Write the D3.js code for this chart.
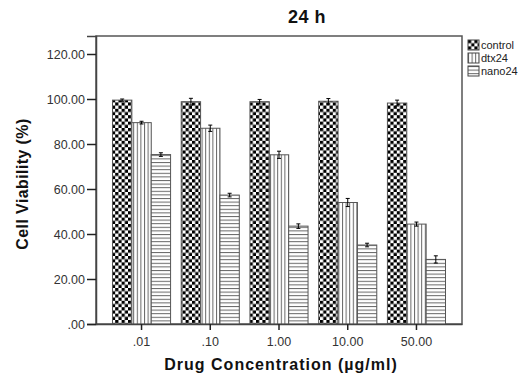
<!DOCTYPE html>
<html>
<head>
<meta charset="utf-8">
<script src="https://cdn.jsdelivr.net/npm/d3@7"></script>
<style>
  body { margin: 0; background: #fff; }
  svg { font-family: Arial, "Liberation Sans", sans-serif; }
</style>
</head>
<body>
<div id="chart"></div>
<script>
// data
const concentrations = [".01", ".10", "1.00", "10.00", "50.00"];
const seriesNames = ["control", "dtx24", "nano24"];
const controlMeans = [99.5, 98.8, 98.8, 99.0, 98.2];
const dtxMeans = [89.5, 87.0, 75.2, 54.0, 44.4];
const nanoMeans = [75.3, 57.3, 43.5, 35.1, 28.7];
const controlErr = [0.5, 1.5, 1.0, 1.2, 1.3];
const dtxErr = [0.6, 1.4, 1.6, 1.8, 0.9];
const nanoErr = [0.8, 0.8, 1.0, 0.8, 1.6];
const yTicks = [0, 20, 40, 60, 80, 100, 120];

let width = 529;
let height = 378;
let margin = { top: 36, bottom: 54, left: 96, right: 67 };

const means = [controlMeans, dtxMeans, nanoMeans];
const errs = [controlErr, dtxErr, nanoErr];
let rows = [];
concentrations.forEach((c, i) => {
  seriesNames.forEach((s, j) => {
    rows.push({ conc: c, series: s, value: means[j][i], err: errs[j][i] });
  });
});

let svg = d3
  .select("#chart")
  .append("svg")
  .attr("width", width)
  .attr("height", height);

// fill patterns
let defs = svg.append("defs");
let checker = defs
  .append("pattern")
  .attr("id", "pat-control")
  .attr("patternUnits", "userSpaceOnUse")
  .attr("width", 6.4)
  .attr("height", 6.4);
checker.append("rect").attr("width", 6.4).attr("height", 6.4).attr("fill", "#fff");
checker.append("rect").attr("width", 3.2).attr("height", 3.2).attr("fill", "#000");
checker.append("rect").attr("x", 3.2).attr("y", 3.2).attr("width", 3.2).attr("height", 3.2).attr("fill", "#000");

let vert = defs
  .append("pattern")
  .attr("id", "pat-dtx24")
  .attr("patternUnits", "userSpaceOnUse")
  .attr("width", 3.6)
  .attr("height", 4);
vert.append("rect").attr("width", 3.6).attr("height", 4).attr("fill", "#fff");
vert.append("rect").attr("x", 0).attr("width", 1).attr("height", 4).attr("fill", "#666");

let horiz = defs
  .append("pattern")
  .attr("id", "pat-nano24")
  .attr("patternUnits", "userSpaceOnUse")
  .attr("width", 4)
  .attr("height", 3.6);
horiz.append("rect").attr("width", 4).attr("height", 3.6).attr("fill", "#fff");
horiz.append("rect").attr("y", 0).attr("width", 4).attr("height", 1).attr("fill", "#666");

let x0 = d3
  .scaleBand()
  .domain(concentrations)
  .range([margin.left, width - margin.right])
  .paddingInner(0.155)
  .paddingOuter(0.24);
let x1 = d3.scaleBand().domain(seriesNames).range([0, x0.bandwidth()]);
let y = d3
  .scaleLinear()
  .domain([0, 128])
  .range([height - margin.bottom, margin.top]);

// plot frame
svg
  .append("rect")
  .attr("x", margin.left)
  .attr("y", margin.top)
  .attr("width", width - margin.right - margin.left)
  .attr("height", height - margin.bottom - margin.top)
  .attr("fill", "none")
  .attr("stroke", "#555")
  .attr("stroke-width", 1.5);

// bars
let bars = svg.append("g");
bars
  .selectAll("rect")
  .data(rows)
  .enter()
  .append("rect")
  .attr("x", (d) => x0(d.conc) + x1(d.series))
  .attr("y", (d) => y(d.value))
  .attr("width", x1.bandwidth())
  .attr("height", (d) => y(0) - y(d.value))
  .attr("fill", (d) => "url(#pat-" + d.series + ")")
  .attr("stroke", "#555")
  .attr("stroke-width", 1);

// error bars
let eb = svg.append("g").attr("stroke", "#000").attr("stroke-width", 1);
rows.forEach((d) => {
  let cx = x0(d.conc) + x1(d.series) + x1.bandwidth() / 2;
  eb.append("line").attr("x1", cx).attr("x2", cx).attr("y1", y(d.value + d.err)).attr("y2", y(d.value - d.err));
  eb.append("line").attr("x1", cx - 2).attr("x2", cx + 2).attr("y1", y(d.value + d.err)).attr("y2", y(d.value + d.err));
  eb.append("line").attr("x1", cx - 2).attr("x2", cx + 2).attr("y1", y(d.value - d.err)).attr("y2", y(d.value - d.err));
});

// axes
let yAxis = svg
  .append("g")
  .attr("transform", "translate(" + margin.left + ",0)")
  .call(
    d3.axisLeft(y)
      .tickValues(yTicks)
      .tickFormat((d) => (d === 0 ? ".00" : d3.format(".2f")(d)))
      .tickSize(9)
      .tickPadding(2)
  );
yAxis.select(".domain").attr("stroke", "#444").attr("stroke-width", 1.5);
yAxis.selectAll(".tick line").attr("stroke", "#222").attr("stroke-width", 1.5);
yAxis.selectAll("text").attr("font-size", 12.5).attr("fill", "#333").attr("font-family", null);

let xAxis = svg
  .append("g")
  .attr("transform", "translate(0," + y(0) + ")")
  .call(d3.axisBottom(x0).tickSize(6).tickPadding(7).tickSizeOuter(0));
xAxis.select(".domain").attr("stroke", "#444").attr("stroke-width", 1.5);
xAxis.selectAll(".tick line").attr("stroke", "#222").attr("stroke-width", 1.5);
xAxis.selectAll("text").attr("font-size", 12.5).attr("fill", "#333").attr("font-family", null);

// titles
svg
  .append("text")
  .attr("x", 307)
  .attr("y", 23)
  .attr("text-anchor", "middle")
  .attr("font-size", 18)
  .attr("font-weight", "bold")
  .attr("letter-spacing", 0.5)
  .attr("fill", "#111")
  .text("24 h");

svg
  .append("text")
  .attr("transform", "translate(28,184) rotate(-90)")
  .attr("text-anchor", "middle")
  .attr("font-size", 16)
  .attr("font-weight", "bold")
  .attr("letter-spacing", 0.4)
  .attr("fill", "#111")
  .text("Cell Viability (%)");

svg
  .append("text")
  .attr("x", 281)
  .attr("y", 370)
  .attr("text-anchor", "middle")
  .attr("font-size", 16)
  .attr("font-weight", "bold")
  .attr("letter-spacing", 1)
  .attr("fill", "#111")
  .text("Drug Concentration (\u00b5g/ml)");

// legend
let legend = svg
  .append("g")
  .attr("transform", "translate(468,40)");
let items = legend
  .selectAll("g")
  .data(seriesNames)
  .enter()
  .append("g")
  .attr("transform", (d, i) => "translate(0," + i * 13 + ")");
items
  .append("rect")
  .attr("width", 11)
  .attr("height", 10)
  .attr("fill", (d) => "url(#pat-" + d + ")")
  .attr("stroke", "#444")
  .attr("stroke-width", 1);
items
  .append("text")
  .attr("x", 13)
  .attr("y", 9)
  .attr("font-size", 11)
  .attr("fill", "#222")
  .text((d) => d);
</script>
</body>
</html>
